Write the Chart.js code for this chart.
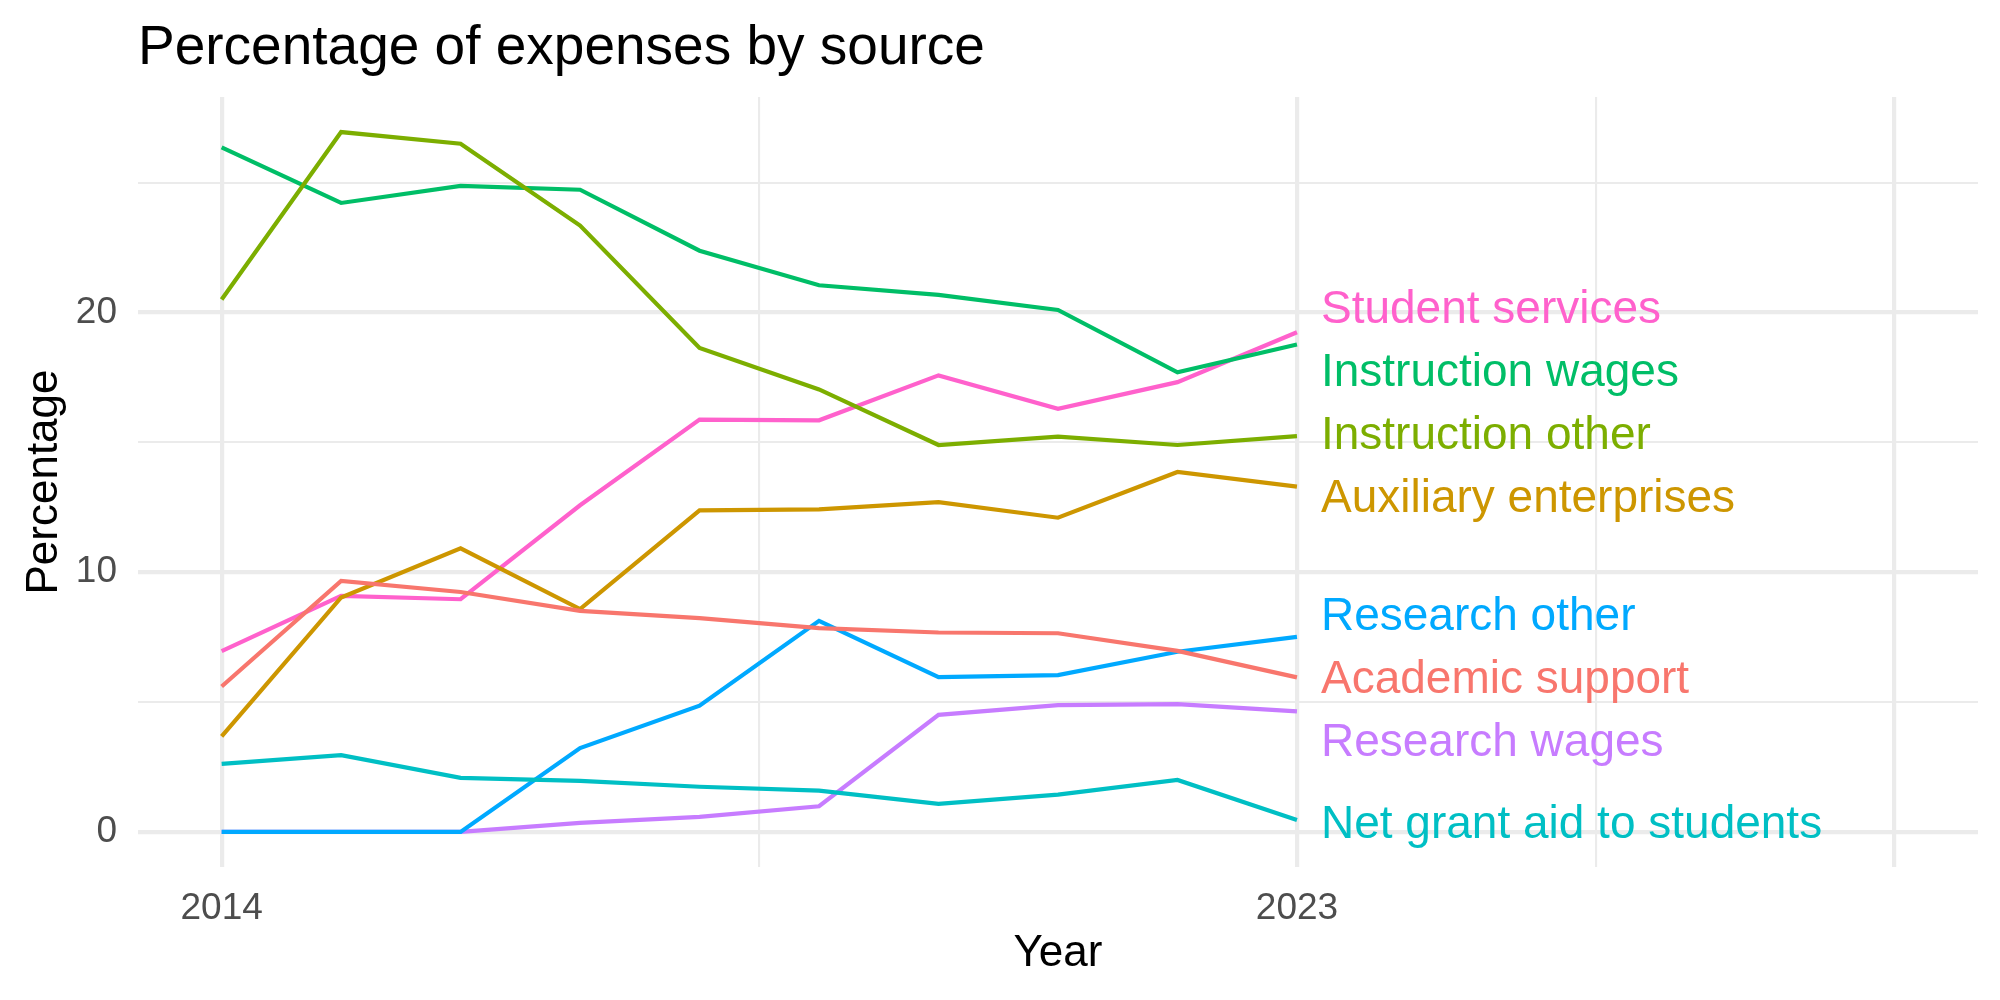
<!DOCTYPE html>
<html>
<head>
<meta charset="utf-8">
<script src="https://cdn.jsdelivr.net/npm/chart.js@4.4.0/dist/chart.umd.min.js"></script>
<style>
  html, body { margin: 0; padding: 0; background: #ffffff; }
  #wrap { width: 2000px; height: 1000px; }
</style>
</head>
<body>
<div id="wrap"><canvas id="chart" width="2000" height="1000"></canvas></div>
<script>
// years on the x axis
var years = [2014, 2015, 2016, 2017, 2018, 2019, 2020, 2021, 2022, 2023];

// percentage of expenses, one array per source
var academicSupport      = [5.60, 9.67, 9.24, 8.51, 8.23, 7.85, 7.68, 7.65, 6.97, 5.95];
var auxiliaryEnterprises = [3.68, 9.03, 10.92, 8.58, 12.38, 12.42, 12.70, 12.10, 13.86, 13.30];
var instructionOther     = [20.50, 26.95, 26.50, 23.35, 18.64, 17.04, 14.90, 15.22, 14.90, 15.24];
var instructionWages     = [26.36, 24.22, 24.88, 24.73, 22.38, 21.05, 20.68, 20.10, 17.70, 18.77];
var netGrantAid          = [2.62, 2.96, 2.08, 1.97, 1.74, 1.59, 1.08, 1.44, 2.00, 0.46];
var researchOther        = [0, 0, 0, 3.23, 4.86, 8.13, 5.96, 6.04, 6.94, 7.51];
var researchWages        = [0, 0, 0, 0.35, 0.58, 0.99, 4.51, 4.88, 4.92, 4.64];
var studentServices      = [6.96, 9.09, 8.96, 12.58, 15.88, 15.85, 17.58, 16.29, 17.32, 19.24];

var seriesNames = ["Academic support", "Auxiliary enterprises", "Instruction other",
                   "Instruction wages", "Net grant aid to students", "Research other",
                   "Research wages", "Student services"];
var seriesValues = [academicSupport, auxiliaryEnterprises, instructionOther, instructionWages,
                    netGrantAid, researchOther, researchWages, studentServices];
var seriesColors = ["#F8766D", "#CD9600", "#7CAE00", "#00BE67",
                    "#00BFC4", "#00A9FF", "#C77CFF", "#FF61CC"];

// tick positions and labels
var xMajorTicks = [2014, 2023, 2028];
var xTickLabels = ["2014", "2023", ""];
var xMinorTicks = [2018.5, 2025.5];
var yMajorTicks = [0, 10, 20];
var yTickLabels = ["0", "10", "20"];
var yMinorTicks = [5, 15, 25];

var FONT = "'Liberation Sans', Arial, Helvetica, sans-serif";

// push end labels apart like ggrepel does (groups centred on their mean)
function spreadLabels(values, gap) {
    var order = values.map(function (v, i) { return i; });
    order.sort(function (a, b) { return values[b] - values[a]; });
    var groups = order.map(function (i) { return { idx: [i], mean: values[i] }; });
    var merged = true;
    while (merged) {
        merged = false;
        for (var g = 0; g < groups.length - 1; g++) {
            var a = groups[g], b = groups[g + 1];
            var aBottom = a.mean - (a.idx.length - 1) * gap / 2;
            var bTop = b.mean + (b.idx.length - 1) * gap / 2;
            if (aBottom - bTop < gap) {
                var idx = a.idx.concat(b.idx);
                var sum = 0;
                idx.forEach(function (i) { sum += values[i]; });
                groups.splice(g, 2, { idx: idx, mean: sum / idx.length });
                merged = true;
                break;
            }
        }
    }
    var out = [];
    groups.forEach(function (grp) {
        grp.idx.forEach(function (i, k) {
            out[i] = grp.mean + ((grp.idx.length - 1) / 2 - k) * gap;
        });
    });
    return out;
}

var endLabels = {
    id: 'endLabels',
    afterDatasetsDraw: function (chart) {
        var ctx = chart.ctx;
        var xs = chart.scales.x, ys = chart.scales.y;
        var lastYear = years[years.length - 1];
        var ends = seriesValues.map(function (s) { return s[s.length - 1]; });
        var spots = spreadLabels(ends, 2.42);
        ctx.save();
        ctx.font = "46px " + FONT;
        ctx.textAlign = 'left';
        ctx.textBaseline = 'middle';
        for (var i = 0; i < seriesNames.length; i++) {
            ctx.fillStyle = seriesColors[i];
            ctx.fillText(seriesNames[i], xs.getPixelForValue(lastYear) + 24, ys.getPixelForValue(spots[i]) + 5);
        }
        ctx.restore();
    }
};

var datasets = [];
for (var i = 0; i < seriesNames.length; i++) {
    var pts = [];
    for (var j = 0; j < years.length; j++) {
        pts.push({ x: years[j], y: seriesValues[i][j] });
    }
    datasets.push({
        label: seriesNames[i],
        data: pts,
        borderColor: seriesColors[i],
        backgroundColor: seriesColors[i],
        borderWidth: 4.2,
        pointRadius: 0,
        tension: 0,
        fill: false
    });
}

function isIn(list, v) {
    for (var k = 0; k < list.length; k++) {
        if (Math.abs(list[k] - v) < 1e-6) return true;
    }
    return false;
}

var chart = new Chart(document.getElementById('chart'), {
    type: 'line',
    data: { datasets: datasets },
    plugins: [endLabels],
    options: {
        responsive: false,
        animation: false,
        devicePixelRatio: 1,
        layout: { padding: { left: 0, right: 22, top: 0, bottom: 0 } },
        plugins: {
            legend: { display: false },
            tooltip: { enabled: false },
            title: {
                display: true,
                text: 'Percentage of expenses by source',
                align: 'start',
                fullSize: false,
                color: '#000000',
                font: { family: FONT, size: 55, weight: 'normal', lineHeight: 1.2 },
                padding: { top: 16, bottom: 15 }
            }
        },
        scales: {
            x: {
                type: 'linear',
                min: 2013.3,
                max: 2028.7,
                afterFit: function (scale) { scale.height = 133; },
                afterBuildTicks: function (scale) {
                    scale.ticks = xMajorTicks.concat(xMinorTicks).sort(function (a, b) { return a - b; })
                        .map(function (v) { return { value: v }; });
                },
                ticks: {
                    autoSkip: false,
                    maxRotation: 0,
                    padding: 20,
                    color: '#4D4D4D',
                    font: { family: FONT, size: 37 },
                    callback: function (value) {
                        var k = xMajorTicks.indexOf(value);
                        return k >= 0 ? xTickLabels[k] : '';
                    }
                },
                grid: {
                    color: '#EBEBEB',
                    drawTicks: false,
                    lineWidth: function (c) { return c.tick && isIn(xMajorTicks, c.tick.value) ? 4.2 : 2.1; }
                },
                border: { display: false },
                title: {
                    display: true,
                    text: 'Year',
                    color: '#000000',
                    font: { family: FONT, size: 44, lineHeight: 1.2 },
                    padding: { top: 0, bottom: 20 }
                }
            },
            y: {
                type: 'linear',
                min: -1.35,
                max: 28.3,
                afterFit: function (scale) { scale.width = 138; },
                afterBuildTicks: function (scale) {
                    scale.ticks = yMajorTicks.concat(yMinorTicks).sort(function (a, b) { return a - b; })
                        .map(function (v) { return { value: v }; });
                },
                ticks: {
                    autoSkip: false,
                    padding: 21,
                    color: '#4D4D4D',
                    font: { family: FONT, size: 37 },
                    callback: function (value) {
                        var k = yMajorTicks.indexOf(value);
                        return k >= 0 ? yTickLabels[k] : '';
                    }
                },
                grid: {
                    color: '#EBEBEB',
                    drawTicks: false,
                    lineWidth: function (c) { return c.tick && isIn(yMajorTicks, c.tick.value) ? 4.2 : 2.1; }
                },
                border: { display: false },
                title: {
                    display: true,
                    text: 'Percentage',
                    color: '#000000',
                    font: { family: FONT, size: 44, lineHeight: 1.2 },
                    padding: { top: 18, bottom: 0 }
                }
            }
        }
    }
});
</script>
</body>
</html>
